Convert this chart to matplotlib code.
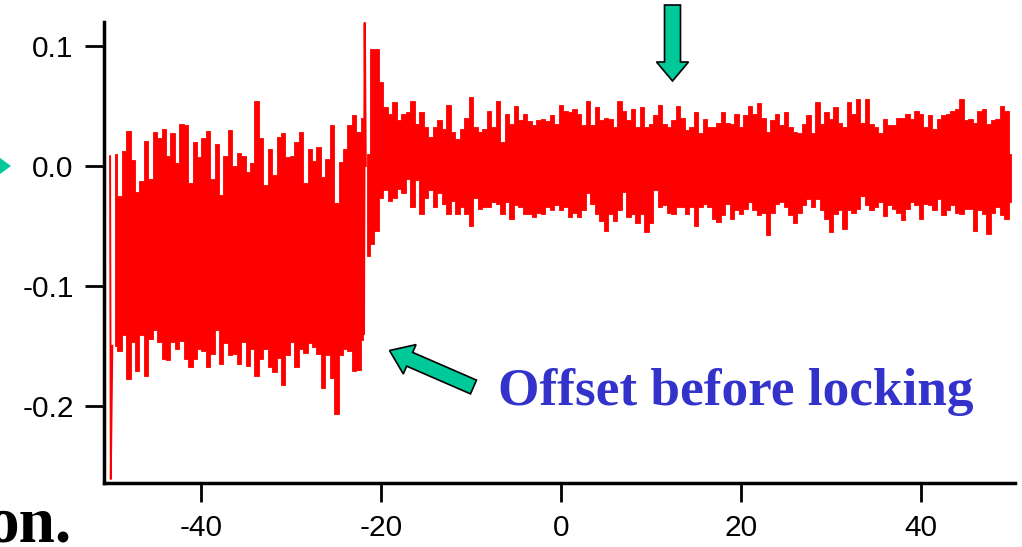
import numpy as np
import matplotlib
matplotlib.use("Agg")
import matplotlib.pyplot as plt
from matplotlib.patches import FancyArrow, Polygon
from matplotlib.transforms import Affine2D

# ---------------- data ----------------
# unlocked part: envelope of the noisy trace
left_upper = [0.010, -0.025, 0.012, 0.029, 0.005, -0.022, -0.013, 0.021, -0.011, 0.028,
              0.023, 0.031, 0.008, 0.027, 0.002, 0.035, 0.034, -0.014, 0.020, 0.007,
              0.023, 0.029, -0.011, 0.018, -0.024, 0.008, 0.030, 0.000, 0.011, 0.008,
              -0.005, 0.002, 0.054, 0.023, -0.016, 0.014, -0.008, 0.024, 0.027, 0.007,
              0.008, 0.020, 0.028, -0.014, 0.014, 0.004, 0.016, -0.009, 0.006, 0.034,
              -0.031, 0.003, 0.014, 0.034, 0.042, 0.028, 0.040]
left_lower = [-0.150, -0.154, -0.141, -0.178, -0.147, -0.171, -0.141, -0.175, -0.144, -0.137,
              -0.147, -0.161, -0.162, -0.147, -0.153, -0.146, -0.161, -0.168, -0.161, -0.153,
              -0.154, -0.168, -0.157, -0.137, -0.165, -0.148, -0.158, -0.157, -0.165, -0.147,
              -0.167, -0.153, -0.175, -0.161, -0.153, -0.168, -0.172, -0.160, -0.183, -0.158,
              -0.147, -0.168, -0.153, -0.156, -0.148, -0.151, -0.157, -0.185, -0.158, -0.177,
              -0.207, -0.158, -0.153, -0.154, -0.171, -0.170, -0.145]
left_start, left_end = -49.55, -22.0

# locked part: envelope of the noisy trace
right_upper = [0.010, 0.097, 0.097, 0.070, 0.049, 0.043, 0.053, 0.038, 0.043, 0.045,
               0.054, 0.035, 0.045, 0.032, 0.024, 0.032, 0.038, 0.031, 0.051, 0.028,
               0.022, 0.031, 0.040, 0.057, 0.032, 0.028, 0.031, 0.046, 0.032, 0.054,
               0.020, 0.043, 0.035, 0.050, 0.038, 0.043, 0.037, 0.034, 0.038, 0.039,
               0.037, 0.042, 0.035, 0.051, 0.046, 0.045, 0.047, 0.043, 0.034, 0.054,
               0.034, 0.049, 0.038, 0.040, 0.039, 0.032, 0.054, 0.046, 0.038, 0.047,
               0.032, 0.049, 0.032, 0.035, 0.042, 0.051, 0.035, 0.032, 0.038, 0.050,
               0.040, 0.030, 0.032, 0.045, 0.027, 0.039, 0.032, 0.032, 0.036, 0.045,
               0.036, 0.035, 0.043, 0.032, 0.042, 0.050, 0.043, 0.052, 0.040, 0.028,
               0.038, 0.043, 0.034, 0.045, 0.032, 0.028, 0.027, 0.035, 0.042, 0.027,
               0.053, 0.035, 0.045, 0.039, 0.049, 0.036, 0.032, 0.053, 0.043, 0.056,
               0.036, 0.056, 0.035, 0.032, 0.027, 0.039, 0.034, 0.034, 0.040, 0.040,
               0.043, 0.039, 0.046, 0.043, 0.032, 0.042, 0.031, 0.039, 0.042, 0.043,
               0.046, 0.047, 0.056, 0.038, 0.039, 0.036, 0.046, 0.047, 0.035, 0.038,
               0.039, 0.050, 0.046, 0.010]
right_lower = [-0.075, -0.065, -0.054, -0.027, -0.020, -0.029, -0.027, -0.019, -0.023, -0.011,
               -0.034, -0.012, -0.040, -0.027, -0.020, -0.034, -0.023, -0.032, -0.040, -0.029,
               -0.040, -0.034, -0.040, -0.050, -0.027, -0.036, -0.034, -0.034, -0.030, -0.032,
               -0.040, -0.030, -0.044, -0.033, -0.034, -0.040, -0.040, -0.043, -0.039, -0.040,
               -0.034, -0.037, -0.033, -0.037, -0.034, -0.043, -0.039, -0.043, -0.037, -0.023,
               -0.032, -0.040, -0.046, -0.054, -0.040, -0.046, -0.037, -0.022, -0.043, -0.040,
               -0.048, -0.040, -0.055, -0.048, -0.020, -0.034, -0.033, -0.039, -0.040, -0.034,
               -0.034, -0.040, -0.034, -0.050, -0.034, -0.032, -0.034, -0.044, -0.047, -0.041,
               -0.032, -0.044, -0.037, -0.040, -0.036, -0.030, -0.037, -0.041, -0.039, -0.058,
               -0.039, -0.032, -0.030, -0.034, -0.041, -0.048, -0.039, -0.033, -0.028, -0.034,
               -0.028, -0.037, -0.044, -0.055, -0.040, -0.037, -0.053, -0.037, -0.039, -0.036,
               -0.025, -0.033, -0.037, -0.034, -0.030, -0.042, -0.033, -0.036, -0.039, -0.045,
               -0.036, -0.030, -0.033, -0.044, -0.032, -0.033, -0.037, -0.028, -0.041, -0.037,
               -0.033, -0.039, -0.040, -0.036, -0.036, -0.054, -0.037, -0.040, -0.057, -0.039,
               -0.034, -0.041, -0.044, -0.030]
right_start, right_end = -21.5, 50.0

# single spikes: start of the record and the lock jump
start_x = [-50.1, -50.02, -49.85]
start_y = [0.008, -0.261, -0.150]
jump_x = [-21.9, -21.8, -21.7]
jump_y = [-0.140, 0.119, 0.000]

xticks = [-40, -20, 0, 20, 40]
xticklabels = ["-40", "-20", "0", "20", "40"]
yticks = [-0.2, -0.1, 0.0, 0.1]
yticklabels = ["-0.2", "-0.1", "0.0", "0.1"]
xlim = (-50.83, 50.45)
ylim = (-0.2643, 0.1198)

annotation_text = "Offset before locking"
cut_text = "on."

# ---------------- figure ----------------
W, H = 1022, 547
fig = plt.figure(figsize=(W / 100, H / 100), dpi=100)
px = Affine2D().scale(1 / W, -1 / H).translate(0, 1) + fig.transFigure

ax = fig.add_axes([103.5 / W, (H - 483) / H, (1015 - 103.5) / W, (483 - 22) / H])
RED = "#FF0000"

xl = np.linspace(left_start, left_end, len(left_upper))
ax.fill_between(xl, left_lower, left_upper, step="mid", color=RED, lw=0.6, ec=RED)
xr = np.linspace(right_start, right_end, len(right_upper))
ax.fill_between(xr, right_lower, right_upper, step="mid", color=RED, lw=0.6, ec=RED)
ax.plot(start_x, start_y, color=RED, lw=1.4)
ax.plot(jump_x, jump_y, color=RED, lw=1.6)

ax.set_xlim(*xlim)
ax.set_ylim(*ylim)
for s in ("top", "right"):
    ax.spines[s].set_visible(False)
for s in ("left", "bottom"):
    ax.spines[s].set_linewidth(2.5)
    ax.spines[s].set_capstyle("projecting")
ax.set_xticks(xticks, xticklabels)
ax.set_yticks(yticks, yticklabels)
ax.tick_params(direction="out", length=13.5, width=2.0, labelsize=21.5, pad=8,
               labelfontfamily="Liberation Sans")
ax.tick_params(axis="x", pad=9)

TEAL = "#00C999"
arr1 = FancyArrow(672.5, 5, 0, 76, width=16, head_width=32, head_length=19,
                  length_includes_head=True, transform=px, fc=TEAL, ec="black", lw=1.2,
                  clip_on=False)
fig.add_artist(arr1)
tail = (473.5, 387.0)
tip = (389.5, 350.5)
arr2 = FancyArrow(tail[0], tail[1], tip[0] - tail[0], tip[1] - tail[1], width=15,
                  head_width=32, head_length=22, length_includes_head=True,
                  transform=px, fc=TEAL, ec="black", lw=1.2, clip_on=False)
fig.add_artist(arr2)
fig.add_artist(Polygon([(0, 158), (11, 166), (0, 174)], closed=True, transform=px,
                       fc=TEAL, ec="none"))

fig.text(498, 405, annotation_text, transform=px, ha="left", va="baseline",
         fontsize=38.3, fontweight="bold", family="Liberation Serif", color="#3333CC")
fig.text(72, 542, cut_text, transform=px, ha="right", va="baseline",
         fontsize=47, fontweight="bold", family="Liberation Serif", color="black")

fig.savefig("out.png", dpi=100)
